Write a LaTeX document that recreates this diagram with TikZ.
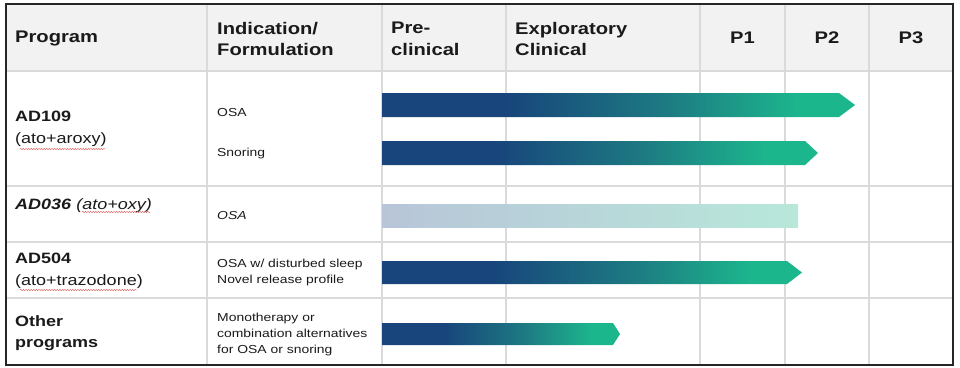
\documentclass[tikz,border=0pt]{standalone}
\usepackage{fontspec}
\setmainfont[FakeStretch=1.2]{Liberation Sans}
\usetikzlibrary{decorations.pathmorphing}

\definecolor{gridgray}{HTML}{DADADA}
\definecolor{headgray}{HTML}{F2F2F2}
\definecolor{framegray}{HTML}{262626}
\definecolor{textblack}{HTML}{1A1A1A}
\definecolor{bardark}{HTML}{18457B}
\definecolor{barteal}{HTML}{1D7A82}
\definecolor{bargreen}{HTML}{1CB68D}
\definecolor{palestart}{HTML}{B8C5D8}
\definecolor{paleend}{HTML}{B8E8DA}
\definecolor{spellred}{HTML}{E05050}

\pgfdeclarehorizontalshading{barfade}{100bp}{color(0bp)=(bardark); color(25bp)=(bardark);
  color(38bp)=(bardark); color(55bp)=(barteal); color(69bp)=(bargreen); color(100bp)=(bargreen)}

\newcommand{\hdrfont}{\fontsize{16.8}{21.5}\selectfont\bfseries}
\newcommand{\prgfont}{\fontsize{15}{21.5}\selectfont}
\newcommand{\ntfont}{\fontsize{11.6}{16}\selectfont}

\begin{document}
\begin{tikzpicture}[x=1pt, y=1pt,
		head/.style={anchor=west, align=left, inner sep=0pt, font=\hdrfont, text=textblack},
		phase/.style={inner sep=0pt, font=\hdrfont, text=textblack},
		prog/.style={anchor=west, align=left, inner sep=0pt, font=\prgfont, text=textblack},
		note/.style={anchor=west, align=left, inner sep=0pt, font=\ntfont, text=textblack},
		gradbar/.style={shading=barfade},
		palebar/.style={left color=palestart, right color=paleend},
		squiggle/.style={spellred, line width=0.45pt, decorate,
				decoration={snake, amplitude=0.55pt, segment length=2.6pt}}]

		\useasboundingbox (0,0) rectangle (960,-367);

		% Header background
		\fill[headgray] (6,-4) rectangle (953,-71);

		% Grid lines
		\foreach \x in {207,382,506,700,785,869} {
				\draw[gridgray, line width=1.4pt] (\x,-4) -- (\x,-365);
			}
		\foreach \y in {71,186,242,298} {
				\draw[gridgray, line width=1.4pt] (6,-\y) -- (953,-\y);
			}

		% Header texts
		\node[head] (hprog) at (15,-38) {Program};
		\node[head] (hind) at (217,-39) {Indication/\\Formulation};
		\node[head] (hpre) at (391,-39) {Pre-\\clinical};
		\node[head] (hexp) at (515,-39) {Exploratory\\Clinical};
		\node[phase] (hp1) at (742.5,-38) {P1};
		\node[phase] (hp2) at (827,-38) {P2};
		\node[phase] (hp3) at (911,-38) {P3};

		% Program column
		\node[prog] (ad109) at (15,-129) {\textbf{AD109}\\(ato+aroxy)};
		\node[prog, anchor=base west] (ad036) at (15,-209) {\textbf{\textit{AD036}} \textit{(ato+oxy)}};
		\node[prog] (ad504) at (15,-271) {\textbf{AD504}\\(ato+trazodone)};
		\node[prog] (other) at (15,-333) {\textbf{Other}\\\textbf{programs}};

		% Indication column
		\node[note, anchor=base west] (osa1) at (217,-116) {OSA};
		\node[note, anchor=base west] (snore) at (217,-156) {Snoring};
		\node[note, anchor=base west] (osa2) at (217,-219) {\textit{OSA}};
		\node[note] (osasleep) at (217,-272) {OSA w/ disturbed sleep\\Novel release profile};
		\node[note] (mono) at (217,-334) {Monotherapy or\\combination alternatives\\for OSA or snoring};

		% Spell-check marks
		\draw[squiggle] (20,-149) -- (105,-149);
		\draw[squiggle] (82,-212) -- (150,-212);
		\draw[squiggle] (20,-290) -- (137,-290);

		% Development bars
		\shade[gradbar] (382,-93) -- (839,-93) -- (855,-105) -- (839,-117) -- (382,-117) -- cycle;
		\shade[gradbar] (382,-141) -- (805,-141) -- (818,-153) -- (805,-165) -- (382,-165) -- cycle;
		\shade[palebar] (382,-204) rectangle (798,-227);
		\shade[gradbar] (382,-261) -- (787,-261) -- (802,-272.5) -- (787,-284) -- (382,-284) -- cycle;
		\shade[gradbar] (382,-323) -- (613,-323) -- (620,-334) -- (613,-345) -- (382,-345) -- cycle;

		% Outer frame
		\draw[framegray, line width=2pt] (6,-4) rectangle (953,-365);

	\end{tikzpicture}
\end{document}
